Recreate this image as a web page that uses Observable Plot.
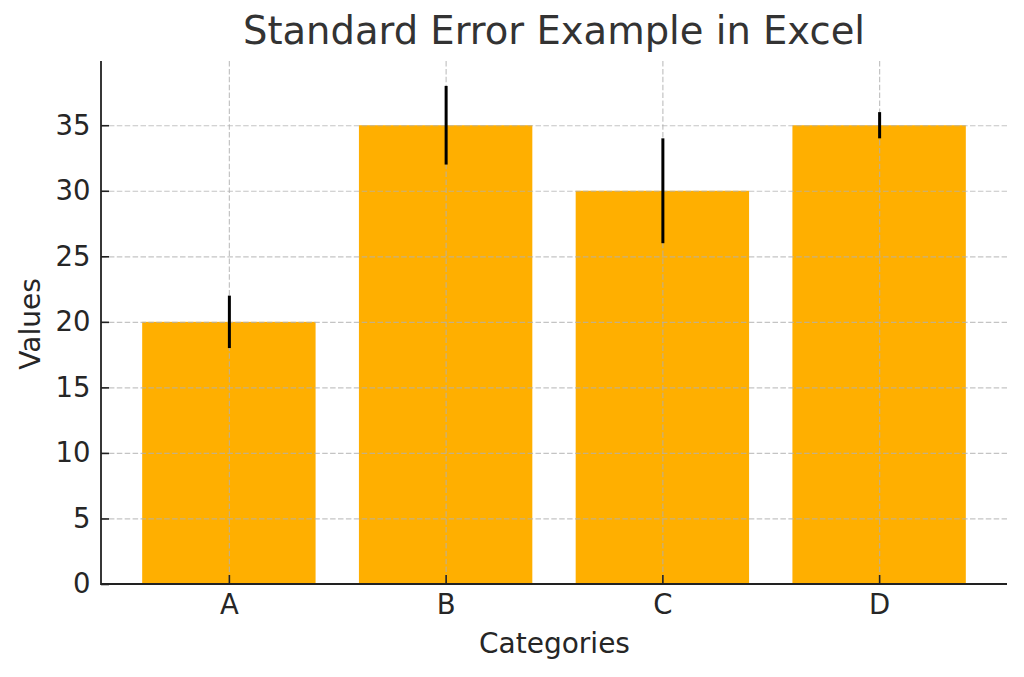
<!DOCTYPE html>
<html>
<head>
<meta charset="utf-8">
<script src="https://cdn.jsdelivr.net/npm/d3@7"></script>
<script src="https://cdn.jsdelivr.net/npm/@observablehq/plot@0.6"></script>
<style>
  html, body { margin: 0; padding: 0; background: white; }
  #title {
    box-sizing: border-box;
    width: 1024px; height: 61px;
    padding: 12px 17px 0 101px;
    font-family: "DejaVu Sans", sans-serif;
    font-size: 38.5px; line-height: 38px;
    color: #333333; text-align: center;
    white-space: nowrap;
  }
  #chart svg { display: block; }
</style>
</head>
<body>
<div id="title">Standard Error Example in Excel</div>
<div id="chart"></div>
<script>
const categories = ["A", "B", "C", "D"];
const values = [20, 35, 30, 35];
const errors = [2, 3, 4, 1];
const yTicks = [0, 5, 10, 15, 20, 25, 30, 35];
const yMax = 39.9;

const data = categories.map((c, i) => ({cat: c, v: values[i], e: errors[i]}));

const gridStyle = {stroke: "#b0b0b0", strokeOpacity: 0.75, strokeDasharray: "5.5,2.4", strokeWidth: 1.2};
const tickColor = "#262626";

function spines(index, scales, vals, dims) {
  const {width, height, marginLeft, marginRight, marginTop, marginBottom} = dims;
  const p = document.createElementNS("http://www.w3.org/2000/svg", "path");
  p.setAttribute("d", `M${marginLeft},${marginTop}V${height - marginBottom}H${width - marginRight}`);
  p.setAttribute("fill", "none");
  p.setAttribute("stroke", "#222222");
  p.setAttribute("stroke-width", "1.8");
  return p;
}

const chart = Plot.plot({
  width: 1024,
  height: 616,
  marginTop: 0,
  marginBottom: 93,
  marginLeft: 101,
  marginRight: 17,
  style: {fontFamily: "DejaVu Sans, sans-serif", fontSize: "27px", color: tickColor, background: "white"},
  x: {domain: categories, paddingInner: 0.2, paddingOuter: 0.19, round: false, label: null},
  y: {domain: [0, yMax], label: null},
  marks: [
    Plot.barY(data, {x: "cat", y: "v", fill: "#FFAF00"}),
    Plot.gridY(yTicks, gridStyle),
    Plot.gridX(categories, gridStyle),
    Plot.ruleX(data, {x: "cat", y1: d => d.v - d.e, y2: d => d.v + d.e, stroke: "black", strokeWidth: 3}),
    spines,
    Plot.axisY(yTicks, {tickSize: 8, dx: 8, tickFormat: () => "", stroke: "#222222", strokeWidth: 1.6, label: null}),
    Plot.axisY(yTicks, {tickSize: 0, tickPadding: 11, fontSize: 27.5, label: null}),
    Plot.axisX(categories, {tickSize: 9, dy: -9, tickFormat: () => "", stroke: "#222222", strokeWidth: 1.6, label: null}),
    Plot.axisX(categories, {tickSize: 0, tickPadding: 10, fontSize: 27.5, label: null}),
    Plot.text(["Values"], {frameAnchor: "left", textAnchor: "middle", lineAnchor: "middle", rotate: -90, dx: -70, dy: 1, fontSize: 28, fill: tickColor}),
    Plot.text(["Categories"], {frameAnchor: "bottom", textAnchor: "middle", lineAnchor: "middle", dy: 60, fontSize: 28, fill: tickColor})
  ]
});
document.getElementById("chart").appendChild(chart);
</script>
</body>
</html>
